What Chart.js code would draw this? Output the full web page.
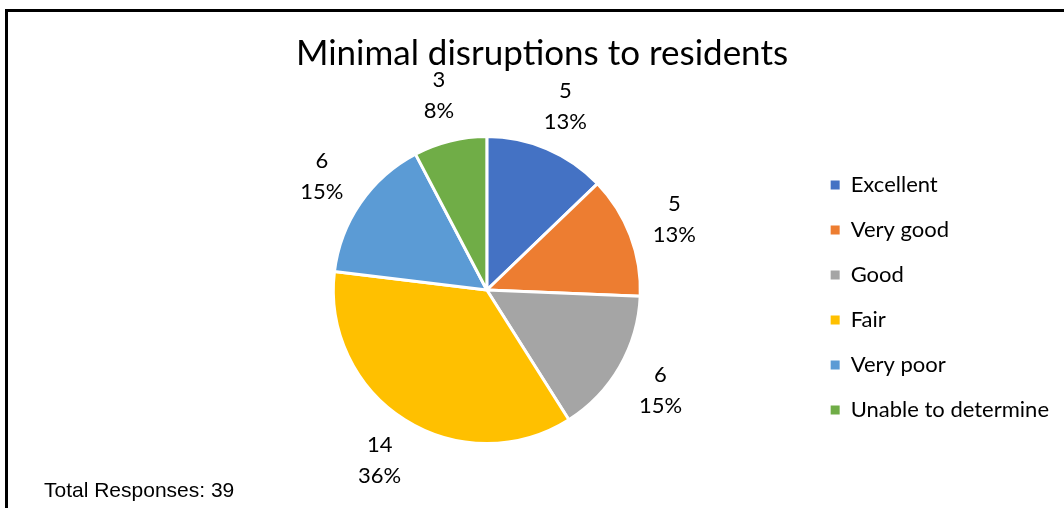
<!DOCTYPE html>
<html>
<head>
<meta charset="utf-8">
<script src="https://cdn.jsdelivr.net/npm/chart.js@4"></script>
<style>
  html, body { margin: 0; padding: 0; background: #fff; }
  #wrap { position: relative; width: 1064px; height: 508px; overflow: hidden; }
  #frame { position: absolute; left: 5px; top: 9px; width: 1100px; height: 600px;
           border-top: 3px solid #000; border-left: 3px solid #000; }
  canvas { position: absolute; left: 0; top: 0; }
</style>
</head>
<body>
<div id="wrap">
  <div id="frame"></div>
  <canvas id="myChart" width="1064" height="508"></canvas>
</div>
<script>
// data
var categories = ["Excellent", "Very good", "Good", "Fair", "Very poor", "Unable to determine"];
var responses = [5, 5, 6, 14, 6, 3];
var colours = ["#4472C4", "#ED7D31", "#A5A5A5", "#FFC000", "#5B9BD5", "#70AD47"];
var chartTitle = "Minimal disruptions to residents";
var footNote = "Total Responses: 39";

var total = responses.reduce(function (a, b) { return a + b; }, 0);

// value + percent labels outside each slice
var sliceLabels = {
  id: 'sliceLabels',
  afterDatasetsDraw: function (chart) {
    var ctx = chart.ctx;
    var arcs = chart.getDatasetMeta(0).data;
    ctx.save();
    ctx.font = '22px Lato';
    ctx.fillStyle = '#000';
    ctx.textAlign = 'center';
    ctx.textBaseline = 'middle';
    arcs.forEach(function (arc, i) {
      var mid = (arc.startAngle + arc.endAngle) / 2;
      var d = arc.outerRadius + 47;
      var x = arc.x + Math.cos(mid) * d;
      var y = arc.y + Math.sin(mid) * d;
      var pct = Math.round(responses[i] / total * 100) + '%';
      ctx.fillText(String(responses[i]), x, y - 15);
      ctx.fillText(pct, x, y + 16);
    });
    ctx.restore();
  }
};

// title (centred on the whole frame, not the plot) and footnote
var extraText = {
  id: 'extraText',
  afterDraw: function (chart) {
    var ctx = chart.ctx;
    ctx.save();
    ctx.fillStyle = '#000';
    ctx.textBaseline = 'middle';
    ctx.textAlign = 'center';
    ctx.font = '35px Lato';
    ctx.fillText(chartTitle, 542, 54);
    ctx.textAlign = 'left';
    ctx.font = '21px "Liberation Sans"';
    ctx.fillText(footNote, 44, 491);
    ctx.restore();
  }
};

var ctx = document.getElementById("myChart");
var chart = new Chart(ctx, {
  type: 'pie',
  data: {
    labels: categories,
    datasets: [{
      data: responses,
      backgroundColor: colours,
      borderColor: '#ffffff',
      borderWidth: 3
    }]
  },
  options: {
    responsive: false,
    animation: false,
    layout: { padding: { left: 166, right: 5, top: 135, bottom: 63 } },
    plugins: {
      title: { display: false },
      legend: {
        position: 'right',
        fullSize: false,
        title: { display: true, text: ' ', font: { family: 'Lato', size: 12.5 }, padding: 0 },
        labels: {
          color: '#000',
          font: { family: 'Lato', size: 22 },
          boxWidth: 9,
          boxHeight: 9,
          padding: 23,
          generateLabels: function (chart) {
            var items = Chart.PieController.overrides.plugins.legend.labels.generateLabels(chart);
            items.forEach(function (it) { it.lineWidth = 0; it.strokeStyle = it.fillStyle; });
            return items;
          }
        }
      },
      tooltip: { enabled: false }
    }
  },
  plugins: [sliceLabels, extraText]
});
</script>
</body>
</html>
